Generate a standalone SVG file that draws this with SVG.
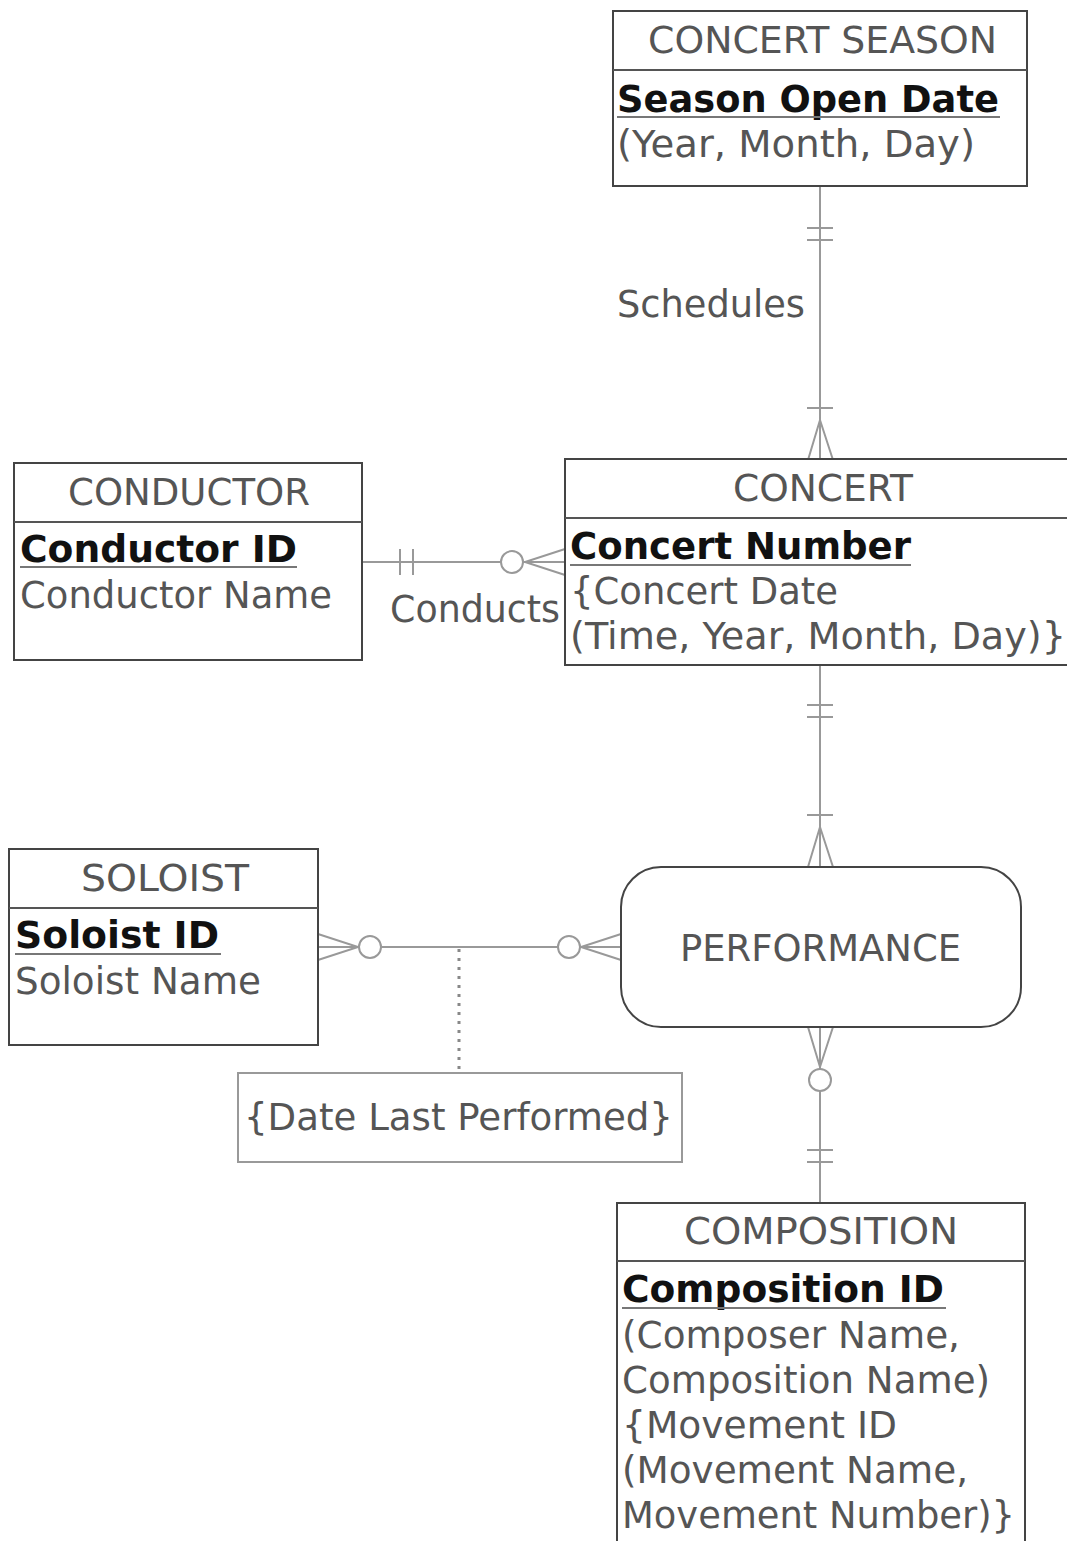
<svg xmlns="http://www.w3.org/2000/svg" width="1067" height="1541" viewBox="0 0 1067 1541">
<style>
text{font-family:"DejaVu Sans","Verdana",sans-serif;font-size:37px;fill:#555}
.k{font-weight:bold;fill:#111}
.box{fill:#fff;stroke:#444;stroke-width:2}
.div{stroke:#555;stroke-width:2}
.ul{stroke:#777;stroke-width:2}
.c{fill:none;stroke:#999;stroke-width:2}
.o{fill:#fff;stroke:#999;stroke-width:2}
</style>
<rect width="1067" height="1541" fill="#fff"/>
<g id="connectors">
  <line class="c" x1="820" y1="186" x2="820" y2="460"/>
  <line class="c" x1="807" y1="228" x2="833" y2="228"/>
  <line class="c" x1="807" y1="240" x2="833" y2="240"/>
  <line class="c" x1="807" y1="408" x2="833" y2="408"/>
  <path class="c" d="M808 460 L820 420 L833 460"/>
  <line class="c" x1="362" y1="562" x2="565" y2="562"/>
  <line class="c" x1="400" y1="549" x2="400" y2="575"/>
  <line class="c" x1="413" y1="549" x2="413" y2="575"/>
  <path class="c" d="M565 549 L525 562 L565 575"/>
  <circle class="o" cx="512" cy="562" r="11"/>
  <line class="c" x1="820" y1="665" x2="820" y2="867"/>
  <line class="c" x1="807" y1="705" x2="833" y2="705"/>
  <line class="c" x1="807" y1="717" x2="833" y2="717"/>
  <line class="c" x1="807" y1="815" x2="833" y2="815"/>
  <path class="c" d="M808 867 L820 827 L833 867"/>
  <line class="c" x1="318" y1="947" x2="621" y2="947"/>
  <path class="c" d="M318 934 L358 947 L318 960"/>
  <circle class="o" cx="370" cy="947" r="11"/>
  <path class="c" d="M621 934 L581 947 L621 960"/>
  <circle class="o" cx="569" cy="947" r="11"/>
  <line x1="459" y1="949" x2="459" y2="1073" stroke="#888" stroke-width="3" stroke-dasharray="3,6"/>
  <line class="c" x1="820" y1="1027" x2="820" y2="1203"/>
  <path class="c" d="M808 1027 L820 1067 L833 1027"/>
  <circle class="o" cx="820" cy="1080" r="11"/>
  <line class="c" x1="807" y1="1150" x2="833" y2="1150"/>
  <line class="c" x1="807" y1="1162" x2="833" y2="1162"/>
  <text x="617" y="317" textLength="188" lengthAdjust="spacingAndGlyphs">Schedules</text>
  <text x="390" y="622" textLength="170" lengthAdjust="spacingAndGlyphs">Conducts</text>
</g>
<g id="concert-season">
  <rect class="box" x="613" y="11" width="414" height="175"/>
  <line class="div" x1="613" y1="70" x2="1027" y2="70"/>
  <text x="648" y="53" textLength="349" lengthAdjust="spacingAndGlyphs">CONCERT SEASON</text>
  <text class="k" x="617" y="112" textLength="382" lengthAdjust="spacingAndGlyphs">Season Open Date</text>
  <line class="ul" x1="617" y1="117" x2="1000" y2="117"/>
  <text x="617" y="157" textLength="358" lengthAdjust="spacingAndGlyphs">(Year, Month, Day)</text>
</g>
<g id="conductor">
  <rect class="box" x="14" y="463" width="348" height="197"/>
  <line class="div" x1="14" y1="522" x2="362" y2="522"/>
  <text x="68" y="505" textLength="242" lengthAdjust="spacingAndGlyphs">CONDUCTOR</text>
  <text class="k" x="20" y="562" textLength="277" lengthAdjust="spacingAndGlyphs">Conductor ID</text>
  <line class="ul" x1="20" y1="567" x2="297" y2="567"/>
  <text x="20" y="608" textLength="312" lengthAdjust="spacingAndGlyphs">Conductor Name</text>
</g>
<g id="concert">
  <rect class="box" x="565" y="459" width="510" height="206"/>
  <line class="div" x1="565" y1="518" x2="1067" y2="518"/>
  <text x="733" y="501" textLength="180" lengthAdjust="spacingAndGlyphs">CONCERT</text>
  <text class="k" x="570" y="559" textLength="341" lengthAdjust="spacingAndGlyphs">Concert Number</text>
  <line class="ul" x1="570" y1="565" x2="911" y2="565"/>
  <text x="570" y="604" textLength="268" lengthAdjust="spacingAndGlyphs">{Concert Date</text>
  <text x="570" y="649" textLength="496" lengthAdjust="spacingAndGlyphs">(Time, Year, Month, Day)}</text>
</g>
<g id="soloist">
  <rect class="box" x="9" y="849" width="309" height="196"/>
  <line class="div" x1="9" y1="908" x2="318" y2="908"/>
  <text x="81" y="891" textLength="168" lengthAdjust="spacingAndGlyphs">SOLOIST</text>
  <text class="k" x="15" y="948" textLength="204" lengthAdjust="spacingAndGlyphs">Soloist ID</text>
  <line class="ul" x1="15" y1="954" x2="221" y2="954"/>
  <text x="15" y="994" textLength="246" lengthAdjust="spacingAndGlyphs">Soloist Name</text>
</g>
<g id="performance">
  <rect class="box" x="621" y="867" width="400" height="160" rx="40" ry="40"/>
  <text x="680" y="961" textLength="281" lengthAdjust="spacingAndGlyphs">PERFORMANCE</text>
</g>
<g id="date-last-performed">
  <rect x="238" y="1073" width="444" height="89" fill="#fff" stroke="#999" stroke-width="2"/>
  <text x="244" y="1130" textLength="429" lengthAdjust="spacingAndGlyphs">{Date Last Performed}</text>
</g>
<g id="composition">
  <rect class="box" x="617" y="1203" width="408" height="345"/>
  <line class="div" x1="617" y1="1261" x2="1025" y2="1261"/>
  <text x="684" y="1244" textLength="274" lengthAdjust="spacingAndGlyphs">COMPOSITION</text>
  <text class="k" x="622" y="1302" textLength="322" lengthAdjust="spacingAndGlyphs">Composition ID</text>
  <line class="ul" x1="622" y1="1308" x2="946" y2="1308"/>
  <text x="622" y="1348" textLength="338" lengthAdjust="spacingAndGlyphs">(Composer Name,</text>
  <text x="622" y="1393" textLength="368" lengthAdjust="spacingAndGlyphs">Composition Name)</text>
  <text x="622" y="1438" textLength="275" lengthAdjust="spacingAndGlyphs">{Movement ID</text>
  <text x="622" y="1483" textLength="346" lengthAdjust="spacingAndGlyphs">(Movement Name,</text>
  <text x="622" y="1528" textLength="393" lengthAdjust="spacingAndGlyphs">Movement Number)}</text>
</g>
</svg>
